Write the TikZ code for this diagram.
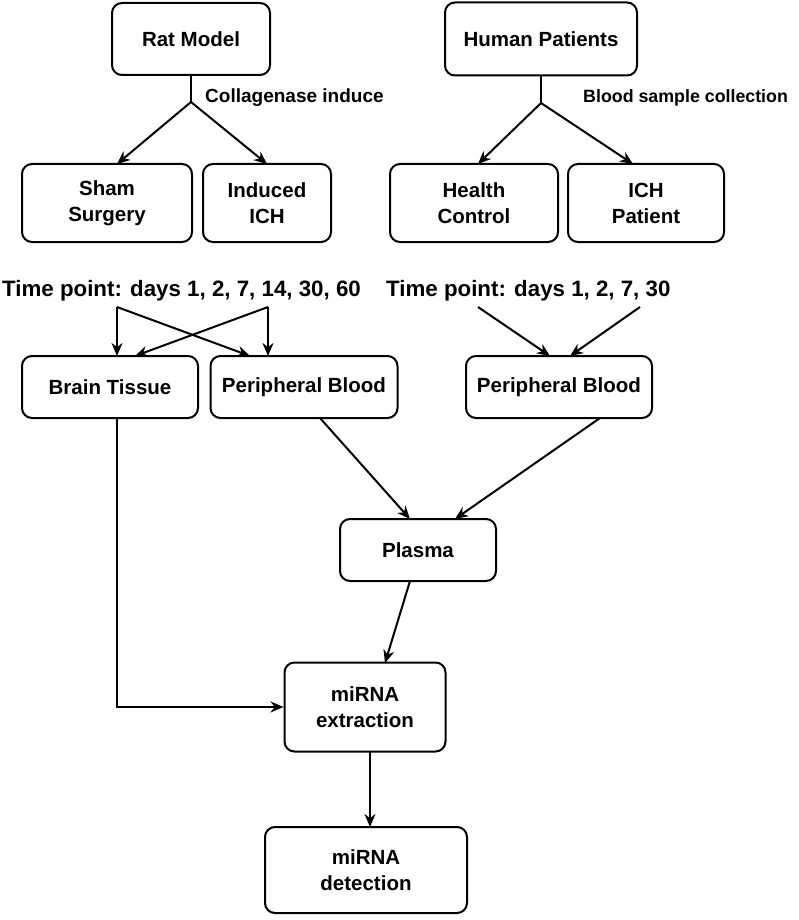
\documentclass[tikz,border=0pt]{standalone}
\usepackage{fontspec}
\setmainfont{Liberation Sans}
\usetikzlibrary{arrows.meta}
\begin{document}
\begin{tikzpicture}[x=1pt,y=-1pt,
 box/.style={draw,line width=2pt,rounded corners=10pt,align=center,font=\bfseries\fontsize{20.5}{26}\selectfont,inner sep=0pt},
 lab/.style={font=\bfseries\fontsize{20}{24}\selectfont,inner sep=0pt},
 arr/.style={line width=2pt,-{Stealth[length=13pt,width=11pt]}},
 ln/.style={line width=2pt}]
\useasboundingbox (0,0) rectangle (799,920);
\node[box,minimum width=158pt,minimum height=72pt] (rat) at (191,39) {Rat Model};
\node[box,minimum width=192pt,minimum height=73pt] (hum) at (541,39) {Human Patients};
\node[box,minimum width=170pt,minimum height=78pt] (sham) at (107,203) {Sham\\Surgery};
\node[box,minimum width=128pt,minimum height=78pt] (ind) at (267,203) {Induced\\ICH};
\node[box,minimum width=168pt,minimum height=78pt] (hc) at (474,203) {Health\\Control};
\node[box,minimum width=156pt,minimum height=78pt] (ichp) at (646,203) {ICH\\Patient};
\node[box,minimum width=176pt,minimum height=62pt] (brain) at (110,387) {Brain Tissue};
\node[box,minimum width=187pt,minimum height=62pt] (pbl) at (304,387) {Peripheral Blood};
\node[box,minimum width=186pt,minimum height=62pt] (pbr) at (559,387) {Peripheral Blood};
\node[box,minimum width=156pt,minimum height=62pt] (plasma) at (418,550) {Plasma};
\node[box,minimum width=161pt,minimum height=89pt] (ext) at (365,707) {miRNA\\extraction};
\node[box,minimum width=202pt,minimum height=86pt] (det) at (366,870) {miRNA\\detection};
\node[lab,anchor=west,font=\bfseries\fontsize{22.3}{26}\selectfont] (tl) at (2,291) {Time point: days 1, 2, 7, 14, 30, 60};
\node[lab,anchor=west,font=\bfseries\fontsize{22.3}{26}\selectfont] (tr) at (386,291) {Time point: days 1, 2, 7, 30};
\node[lab,anchor=west,font=\bfseries\fontsize{19}{24}\selectfont] (col) at (205,98) {Collagenase induce};
\node[lab,anchor=west,font=\bfseries\fontsize{17.8}{24}\selectfont] (bsc) at (583,98) {Blood sample collection};
\coordinate (r1) at (191,102);
\draw[ln] (rat.south) -- (r1);
\draw[arr] (r1) -- (117,164);
\draw[arr] (r1) -- (267,164);
\coordinate (h1) at (541,103);
\draw[ln] (hum.south) -- (h1);
\draw[arr] (h1) -- (478,164);
\draw[arr] (h1) -- (633,164);
\coordinate (a1) at (117,307);
\coordinate (a2) at (268,307);
\draw[arr] (a1) -- (117,356);
\draw[arr] (a1) -- (250,356);
\draw[arr] (a2) -- (268,356);
\draw[arr] (a2) -- (135,356);
\coordinate (b1) at (478,307);
\coordinate (b2) at (640,307);
\draw[arr] (b1) -- (550,356);
\draw[arr] (b2) -- (570,356);
\draw[arr] (320,418) -- (410,519);
\draw[arr] (600,418) -- (455,519);
\draw[arr] (410,581) -- (385,663);
\draw[arr] (117,418) |- (ext.west);
\draw[arr] (370,752) -- (370,827);
\end{tikzpicture}
\end{document}
